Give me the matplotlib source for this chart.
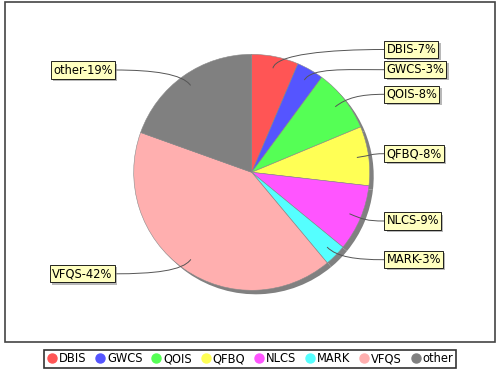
import numpy as np
import matplotlib.pyplot as plt
import matplotlib.patheffects as pe
from matplotlib.path import Path
from matplotlib.patches import PathPatch, Rectangle
from matplotlib.lines import Line2D

plt.rcParams['font.family'] = ['DejaVu Sans']

#### data ######################################################################

names = ['DBIS', 'GWCS', 'QOIS', 'QFBQ', 'NLCS', 'MARK', 'VFQS', 'other']
shares = [6.4, 3.7, 8.6, 8.1, 9.1, 3.0, 41.5, 19.5]
pctText = ['7%', '3%', '8%', '8%', '9%', '3%', '42%', '19%']
colors = ['#ff5555', '#5555ff', '#55ff55', '#ffff55',
          '#ff55ff', '#55ffff', '#ffafaf', '#808080']

#### layout (pixel units, y measured from top) #################################

W, H = 500, 370
cx, cy, R = 251.7, 172.3, 118
labelY = [49.5, 69.7, 94.3, 153.7, 221, 259.7, 273.8, 70]
rightX, leftX = 384, 115

def py(y):
    return H - y

#### plot ######################################################################

fig = plt.figure(figsize=(W/100, H/100), dpi=100)
ax = fig.add_axes([0, 0, 1, 1])

# shadow then pie
ax.pie(shares, colors=['#808080']*len(shares), startangle=90, counterclock=False,
       center=(cx+4, py(cy)-4), radius=R, wedgeprops=dict(lw=0))
ax.pie(shares, colors=colors, startangle=90, counterclock=False,
       center=(cx, py(cy)), radius=R, wedgeprops=dict(ec='#8a8a8a', lw=0.4))

# labels and link curves
cum = np.cumsum(shares)/np.sum(shares)
mids = cum - np.array(shares)/np.sum(shares)/2
for k, nm in enumerate(names):
    th = 2*np.pi*mids[k]
    dx, dy = np.sin(th), np.cos(th)
    p0 = (cx + 0.9*R*dx, py(cy) + 0.9*R*dy)
    p1 = (cx + 1.02*R*dx, py(cy) + 1.02*R*dy)
    if dx >= 0:
        lx = rightX
        ha = 'left'
    else:
        lx = leftX
        ha = 'right'
    ly = py(labelY[k])
    p2 = (lx - 0.5*(lx - p0[0]), ly)
    path = Path([p0, p1, p2, (lx, ly)],
                [Path.MOVETO, Path.CURVE4, Path.CURVE4, Path.CURVE4])
    ax.add_patch(PathPatch(path, fc='none', ec='#555555', lw=0.7, zorder=3))
    off = 2.5 if ha == 'left' else -2.5
    t = ax.text(lx + off, ly, nm + '-' + pctText[k], ha=ha, va='center',
                fontsize=8.3, color='black',
                bbox=dict(boxstyle='square,pad=0.18', fc='#ffffc0', ec='black', lw=0.6),
                zorder=5)
    t.get_bbox_patch().set_path_effects(
        [pe.SimplePatchShadow(offset=(1.6, -1.6), shadow_rgbFace='#8a8a8a', alpha=0.6),
         pe.Normal()])

# plot area border
ax.add_patch(Rectangle((5, py(342)), 490, 340, fc='none', ec='#444444', lw=1.2, zorder=6))

ax.set_xlim(0, W)
ax.set_ylim(0, H)
ax.set_aspect('auto')
ax.axis('off')

handles = [Line2D([], [], ls='none', marker='o', ms=6.5, mfc=c, mec=c) for c in colors]
leg = fig.legend(handles, names, loc='center', bbox_to_anchor=(0.5, 1 - 359/H), ncol=8,
                 fontsize=8.3, frameon=True, fancybox=False, edgecolor='black',
                 handletextpad=0.15, columnspacing=0.75, handlelength=0.9,
                 borderpad=0.2, borderaxespad=0)
leg.get_frame().set_linewidth(1.2)

fig.savefig('out.png', dpi=100)
plt.close()
